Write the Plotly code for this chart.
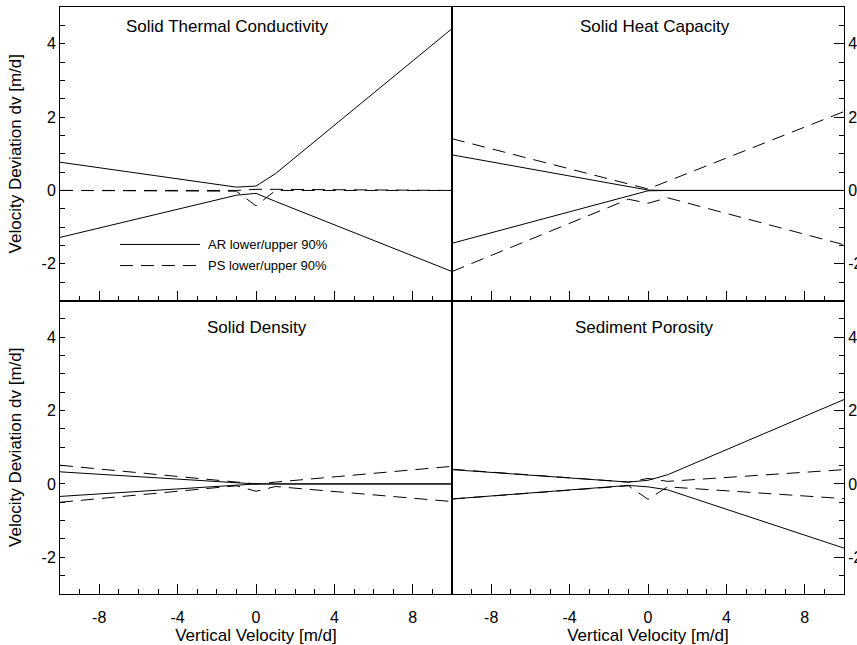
import plotly.graph_objects as go
from plotly.subplots import make_subplots

# ---------------- data ----------------
velocity = [-10, -1, 0, 1, 10]          # vertical velocity knots [m/d]

panel_titles = ["Solid Thermal Conductivity", "Solid Heat Capacity",
                "Solid Density", "Sediment Porosity"]

# Solid Thermal Conductivity
tc_ar_upper = [0.77, 0.09, 0.12, 0.46, 4.41]
tc_ar_lower = [-1.28, -0.13, -0.08, -0.30, -2.21]
tc_ps_upper = [0.0, 0.0, 0.03, 0.03, 0.0]
tc_ps_lower = [0.0, -0.02, -0.42, 0.0, 0.0]

# Solid Heat Capacity
hc_ar_upper = [0.97, 0.10, 0.01, 0.0, 0.0]
hc_ar_lower = [-1.44, -0.14, -0.01, 0.0, 0.0]
hc_ps_upper = [1.41, 0.18, 0.04, 0.25, 2.15]
hc_ps_lower = [-2.21, -0.24, -0.35, -0.20, -1.48]

# Solid Density
sd_ar_upper = [0.33, 0.03, 0.0, 0.0, 0.0]
sd_ar_lower = [-0.34, -0.03, 0.0, 0.0, 0.0]
sd_ps_upper = [0.51, 0.05, 0.0, 0.05, 0.48]
sd_ps_lower = [-0.50, -0.05, -0.20, -0.07, -0.48]

# Sediment Porosity
sp_ar_upper = [0.39, 0.05, 0.10, 0.25, 2.30]
sp_ar_lower = [-0.41, -0.04, -0.08, -0.16, -1.75]
sp_ps_upper = [0.40, 0.05, 0.15, 0.07, 0.39]
sp_ps_lower = [-0.41, -0.05, -0.42, -0.08, -0.40]

x_ticks = [-8, -4, 0, 4, 8]
x_tick_labels = ["-8", "-4", "0", "4", "8"]
y_ticks = [-2, 0, 2, 4]
y_tick_labels = ["-2", "0", "2", "4"]

legend_labels = ["AR lower/upper 90%", "PS lower/upper 90%"]

# ---------------- figure ----------------
FONT = "Liberation Sans, Arial, sans-serif"
DASH = "13px,8px"

fig = make_subplots(rows=2, cols=2, horizontal_spacing=0, vertical_spacing=0)

panels = [
    (1, 1, tc_ar_upper, tc_ar_lower, tc_ps_upper, tc_ps_lower),
    (1, 2, hc_ar_upper, hc_ar_lower, hc_ps_upper, hc_ps_lower),
    (2, 1, sd_ar_upper, sd_ar_lower, sd_ps_upper, sd_ps_lower),
    (2, 2, sp_ar_upper, sp_ar_lower, sp_ps_upper, sp_ps_lower),
]

for r, c, aru, arl, psu, psl in panels:
    for ys, nm in ((aru, "AR upper 90%"), (arl, "AR lower 90%")):
        fig.add_trace(go.Scatter(x=velocity, y=ys, mode="lines", name=nm,
                                 line=dict(color="black", width=1),
                                 showlegend=False), row=r, col=c)
    for ys, nm in ((psu, "PS upper 90%"), (psl, "PS lower 90%")):
        fig.add_trace(go.Scatter(x=velocity, y=ys, mode="lines", name=nm,
                                 line=dict(color="black", width=1, dash=DASH),
                                 showlegend=False), row=r, col=c)

for r in (1, 2):
    for c in (1, 2):
        fig.update_xaxes(
            row=r, col=c, range=[-10, 10],
            tickvals=x_ticks, ticktext=x_tick_labels,
            ticks="inside", ticklen=10, tickwidth=1, tickcolor="black",
            minor=dict(dtick=1, tick0=0, ticks="inside", ticklen=5,
                       tickcolor="black", tickwidth=1),
            showline=True, linecolor="black", linewidth=1, mirror=True,
            showgrid=False, zeroline=False,
            showticklabels=(r == 2), ticklabelstandoff=9,
            tickfont=dict(family=FONT, size=16, color="black"),
            title=dict(text="Vertical Velocity [m/d]" if r == 2 else "",
                       font=dict(family=FONT, size=17, color="black"),
                       standoff=1),
        )
        fig.update_yaxes(
            row=r, col=c, range=[-3, 5],
            tickvals=y_ticks, ticktext=y_tick_labels,
            side="left" if c == 1 else "right",
            ticks="inside", ticklen=5 if c == 1 else 10, tickwidth=1,
            tickcolor="black",
            minor=dict(dtick=0.5, tick0=0, ticks="inside", ticklen=5,
                       tickcolor="black", tickwidth=1),
            showline=True, linecolor="black", linewidth=1, mirror=True,
            showgrid=False, zeroline=False,
            tickfont=dict(family=FONT, size=16, color="black"),
            title=dict(text="Velocity Deviation dv [m/d]" if c == 1 else "",
                       font=dict(family=FONT, size=17, color="black"),
                       standoff=15),
        )

# panel titles
title_pos = [("x", "y", 0.426, 0.935), ("x2", "y2", 0.518, 0.932),
             ("x3", "y3", 0.503, 0.908), ("x4", "y4", 0.490, 0.908)]
for (xr, yr, px, py), t in zip(title_pos, panel_titles):
    fig.add_annotation(text=t, xref=f"{xr} domain", yref=f"{yr} domain",
                       x=px, y=py, xanchor="center", yanchor="middle",
                       showarrow=False,
                       font=dict(family=FONT, size=17, color="black"))

# legend keys (drawn in the first panel)
for yk, dash, lab in ((0.191, "solid", legend_labels[0]),
                      (0.119, DASH, legend_labels[1])):
    fig.add_shape(type="line", xref="x domain", yref="y domain",
                  x0=0.153, x1=0.357, y0=yk, y1=yk,
                  line=dict(color="black", width=1, dash=dash))
    fig.add_annotation(text=lab, xref="x domain", yref="y domain",
                       x=0.372, y=yk, xanchor="left", yanchor="middle",
                       showarrow=False,
                       font=dict(family=FONT, size=13, color="black"))

fig.update_layout(
    width=857, height=645,
    margin=dict(l=60, r=13, t=7, b=51, autoexpand=False),
    paper_bgcolor="white", plot_bgcolor="white",
    showlegend=False,
)

fig.write_html("out.html",
               config={"displayModeBar": False},
               post_script="document.body.style.margin='0';"
                           "document.body.style.overflow='hidden';")
